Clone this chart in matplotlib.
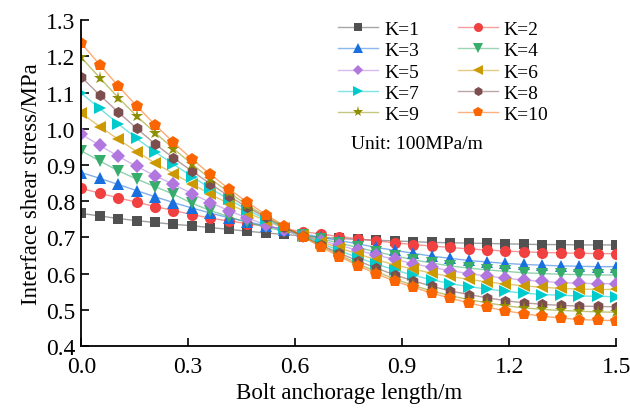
import numpy as np
import matplotlib
matplotlib.use("Agg")
import matplotlib.pyplot as plt

plt.rcParams["font.family"] = ["Liberation Serif", "DejaVu Serif"]

# 30 sample positions along the bolt (m)
length = np.linspace(0.0, 1.5, 30)

k1 = [0.766, 0.759, 0.752, 0.746, 0.741, 0.736, 0.732, 0.727, 0.722, 0.717,
      0.712, 0.708, 0.704, 0.700, 0.697, 0.694, 0.692, 0.690, 0.688, 0.686,
      0.685, 0.684, 0.683, 0.682, 0.681, 0.680, 0.680, 0.679, 0.679, 0.679]
k2 = [0.835, 0.822, 0.809, 0.797, 0.785, 0.774, 0.763, 0.753, 0.745, 0.738,
      0.731, 0.723, 0.716, 0.709, 0.702, 0.696, 0.690, 0.685, 0.680, 0.676,
      0.672, 0.668, 0.665, 0.662, 0.660, 0.658, 0.657, 0.656, 0.655, 0.655]
k3 = [0.879, 0.863, 0.846, 0.829, 0.812, 0.796, 0.781, 0.767, 0.754, 0.743,
      0.732, 0.721, 0.710, 0.700, 0.691, 0.682, 0.672, 0.664, 0.656, 0.648,
      0.642, 0.636, 0.632, 0.628, 0.625, 0.623, 0.621, 0.620, 0.619, 0.619]
k4 = [0.939, 0.911, 0.884, 0.861, 0.840, 0.819, 0.794, 0.774, 0.757, 0.741,
      0.728, 0.717, 0.706, 0.696, 0.684, 0.672, 0.660, 0.649, 0.638, 0.629,
      0.621, 0.615, 0.610, 0.606, 0.602, 0.600, 0.598, 0.597, 0.596, 0.596]
k5 = [0.985, 0.954, 0.924, 0.896, 0.870, 0.846, 0.821, 0.796, 0.774, 0.753,
      0.735, 0.719, 0.705, 0.691, 0.678, 0.664, 0.651, 0.639, 0.627, 0.617,
      0.608, 0.600, 0.593, 0.587, 0.582, 0.578, 0.575, 0.573, 0.572, 0.572]
k6 = [1.043, 1.006, 0.971, 0.937, 0.905, 0.876, 0.848, 0.819, 0.793, 0.768,
      0.746, 0.725, 0.706, 0.688, 0.670, 0.654, 0.638, 0.624, 0.612, 0.601,
      0.592, 0.584, 0.577, 0.571, 0.566, 0.562, 0.559, 0.557, 0.556, 0.556]
k7 = [1.098, 1.056, 1.014, 0.973, 0.936, 0.902, 0.868, 0.835, 0.805, 0.776,
      0.750, 0.727, 0.705, 0.684, 0.663, 0.644, 0.626, 0.610, 0.595, 0.583,
      0.572, 0.564, 0.557, 0.551, 0.546, 0.542, 0.540, 0.538, 0.537, 0.536]
k8 = [1.143, 1.093, 1.046, 1.001, 0.958, 0.919, 0.883, 0.848, 0.814, 0.783,
      0.755, 0.728, 0.704, 0.679, 0.656, 0.635, 0.615, 0.596, 0.580, 0.565,
      0.552, 0.542, 0.533, 0.525, 0.519, 0.515, 0.512, 0.510, 0.509, 0.508]
k9 = [1.197, 1.141, 1.086, 1.035, 0.989, 0.945, 0.902, 0.862, 0.824, 0.789,
      0.758, 0.729, 0.703, 0.677, 0.651, 0.627, 0.605, 0.585, 0.567, 0.552,
      0.539, 0.528, 0.519, 0.511, 0.505, 0.501, 0.498, 0.496, 0.494, 0.493]
k10 = [1.236, 1.177, 1.118, 1.063, 1.011, 0.962, 0.916, 0.874, 0.834, 0.797,
       0.763, 0.732, 0.702, 0.673, 0.647, 0.622, 0.599, 0.579, 0.562, 0.546,
       0.532, 0.519, 0.507, 0.497, 0.489, 0.482, 0.477, 0.473, 0.471, 0.470]

series = [k1, k2, k3, k4, k5, k6, k7, k8, k9, k10]
labels = ["K=1", "K=2", "K=3", "K=4", "K=5", "K=6", "K=7", "K=8", "K=9", "K=10"]
colors = ["#515151", "#F14040", "#1A6FDF", "#37AD6B", "#B177DE",
          "#CC9900", "#00CBCC", "#7D4E4E", "#8E8E00", "#FB6501"]
markers = ["s", "o", "^", "v", "D", "<", ">", "h", "*", "p"]
sizes = [7, 8, 8.5, 8.5, 7, 8.5, 8.5, 8, 9.5, 9]

fig = plt.figure(figsize=(6.3, 4.14), dpi=100)
ax = fig.add_axes([0.129, 0.162, 0.849, 0.787])

for y, c, m, s in zip(series, colors, markers, sizes):
    ax.plot(length, y, color=c, alpha=0.55, linewidth=1.0)
    ax.plot(length, y, linestyle="none", marker=m, markersize=s,
            color=c, markeredgewidth=0)

# legend handles: faint line with solid marker
handles = []
for c, m, s in zip(colors, markers, sizes):
    h = plt.Line2D([], [], color=matplotlib.colors.to_rgba(c, 0.5),
                   linewidth=1.0, marker=m, markersize=s - 1.5,
                   markeredgewidth=0, markerfacecolor=c)
    handles.append(h)
# reorder so that ncol=2 fills row-wise
order = [0, 2, 4, 6, 8, 1, 3, 5, 7, 9]
ax.legend([handles[i] for i in order], [labels[i] for i in order],
          ncol=2, frameon=False, loc="upper left",
          bbox_to_anchor=(0.4475, 1.053), fontsize=14,
          handlelength=2.06, handletextpad=0.3, columnspacing=2.0,
          labelspacing=0.19)

ax.text(0.505, 0.622, "Unit: 100MPa/m", transform=ax.transAxes,
        fontsize=14, va="center")

ax.set_xlim(0, 1.5)
ax.set_ylim(0.4, 1.3)
ax.set_xticks([0.0, 0.3, 0.6, 0.9, 1.2, 1.5])
ax.set_yticks(np.arange(0.4, 1.31, 0.1))
ax.xaxis.set_major_formatter(matplotlib.ticker.FormatStrFormatter("%.1f"))
ax.yaxis.set_major_formatter(matplotlib.ticker.FormatStrFormatter("%.1f"))
ax.tick_params(direction="in", length=6, width=1.2, labelsize=17)
ax.tick_params(axis="x", pad=7)
ax.tick_params(axis="y", pad=4)
ax.spines["top"].set_visible(False)
ax.spines["right"].set_visible(False)
for sp in ("left", "bottom"):
    ax.spines[sp].set_linewidth(1.3)
ax.set_xlabel("Bolt anchorage length/m", fontsize=16.5, labelpad=4)
ax.set_ylabel("Interface shear stress/MPa", fontsize=16.5, labelpad=3)

fig.savefig("out.png", dpi=100)
